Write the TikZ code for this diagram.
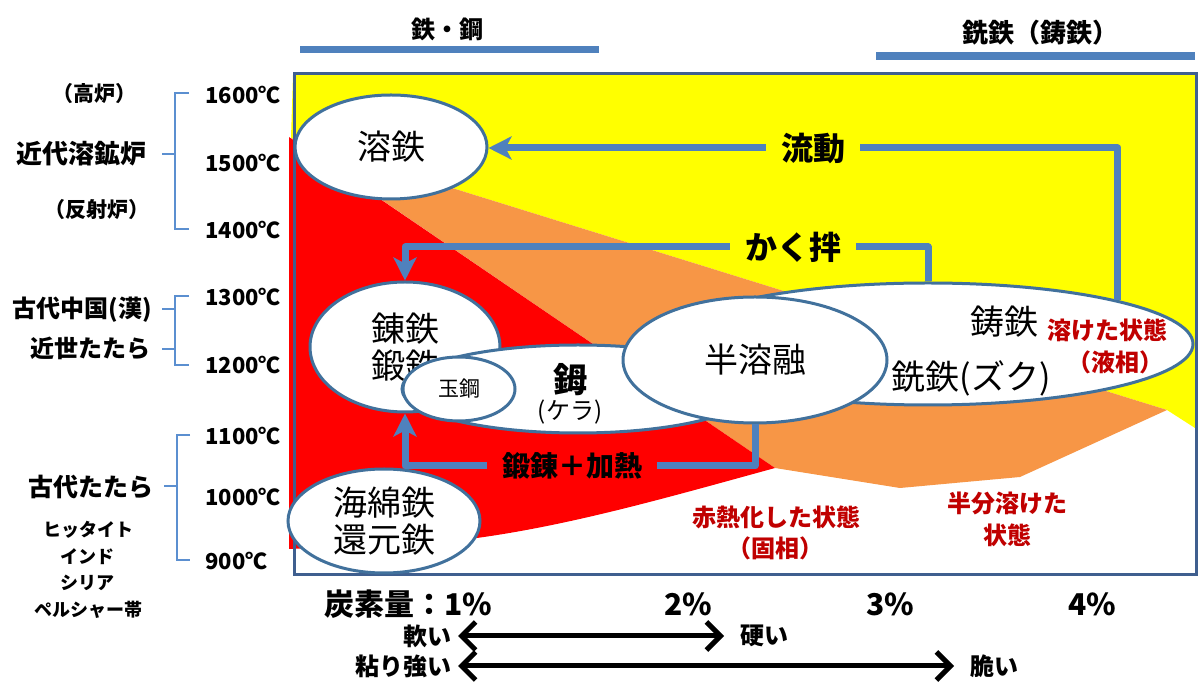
\documentclass[tikz,border=0pt]{standalone}
\usepackage{fontspec}
\setmainfont{Noto Sans CJK JP}
\usetikzlibrary{shapes.geometric,arrows.meta}
\definecolor{cyel}{HTML}{FFFF00}
\definecolor{cred}{HTML}{FF0000}
\definecolor{corg}{HTML}{F79646}
\definecolor{cline}{HTML}{4F81BD}
\definecolor{cedge}{HTML}{41719C}
\definecolor{cframe}{HTML}{3F5F8F}
\definecolor{cbrk}{HTML}{5B8FD0}
\definecolor{dred}{HTML}{C00000}
\newcommand{\fsz}[2]{\fontsize{#1pt}{#2pt}\selectfont}
\begin{document}
\begin{tikzpicture}[x=0.5pt,y=-0.5pt,
  ell/.style={ellipse, draw=cedge, line width=1.5pt, fill=white, inner sep=0pt, align=center},
  conn/.style={draw=cline, line width=3.5pt, line join=round},
  tip/.style={-{Stealth[length=11.5pt,width=11.5pt,inset=3pt]}},
  lbl/.style={font=\bfseries\fsz{16}{18}, inner xsep=7.5pt, inner ysep=2pt},
  temp/.style={anchor=west, font=\bfseries\fsz{11}{13}, inner sep=0pt},
  side/.style={font=\bfseries\fsz{12}{14}, inner sep=0pt},
  small/.style={font=\bfseries\fsz{9}{11}, inner sep=0pt},
  rlab/.style={font=\bfseries\fsz{12}{14}, text=dred, inner sep=0pt},
  etxt/.style={font=\fsz{17}{19}, inner sep=0pt},
  brk/.style={draw=cbrk, line width=1pt},
  barr/.style={draw=black, line width=2.5pt, {Straight Barb[length=7pt,width=14pt]}-{Straight Barb[length=7pt,width=14pt]}},
  btm/.style={font=\bfseries\fsz{12}{14}, inner ysep=0pt}
]
\useasboundingbox (0,0) rectangle (1200,699);
\fill[white] (0,0) rectangle (1200,699);

% coloured regions
\fill[cyel] (293,75) -- (1195,75) -- (1195,428) -- (1167,410) -- (291,138) -- cycle;
\fill[corg] (291,138) -- (1167,410) -- (1020,477) -- (900,488) -- (775,468) -- cycle;
\fill[cred] (289,137) -- (775,468) .. controls (640,505) and (520,540) .. (400,545) -- (289,549) -- cycle;
\draw[cframe, line width=1.5pt] (294,74) rectangle (1196,575);

% top bars and titles
\draw[cline, line width=3.5pt] (300,49.5) -- (599,49.5);
\draw[cline, line width=4pt] (876,56) -- (1195,56);
\node[font=\bfseries\fsz{12}{14}] (tk) at (447,29) {鉄・鋼};
\node[font=\bfseries\fsz{13}{15}] (st) at (1040,33) {銑鉄（鋳鉄）};

% temperatures
\node[temp] (t16) at (205,95) {1600℃};
\node[temp] (t15) at (205,163) {1500℃};
\node[temp] (t14) at (205,230) {1400℃};
\node[temp] (t13) at (205,297) {1300℃};
\node[temp] (t12) at (205,365) {1200℃};
\node[temp] (t11) at (205,436) {1100℃};
\node[temp] (t10) at (205,497) {1000℃};
\node[temp] (t09) at (205,561) {900℃};

% brackets
\draw[brk] (189,93) -- (175,93) -- (175,229) -- (189,229);
\draw[brk] (162,154) -- (175,154);
\draw[brk] (189,296) -- (175,296) -- (175,365) -- (189,365);
\draw[brk] (162,309) -- (175,309);
\draw[brk] (162,349) -- (175,349);
\draw[brk] (190,435) -- (177,435) -- (177,560) -- (190,560);
\draw[brk] (164,486) -- (177,486);

% side labels
\node[font=\bfseries\fsz{10.5}{12}] (kouro) at (95,94) {（高炉）};
\node[font=\bfseries\fsz{13}{15}] (kindai) at (82,154) {近代溶鉱炉};
\node[font=\bfseries\fsz{10.5}{12}] (hansha) at (97,210) {（反射炉）};
\node[side] (kodaichu) at (82,310) {古代中国(漢)};
\node[side] (kinsei) at (90,348) {近世たたら};
\node[font=\bfseries\fsz{12.5}{14}] (kodaitatara) at (91,487) {古代たたら};
\node[small] (hit) at (88,530) {ヒッタイト};
\node[small] (ind) at (88,557) {インド};
\node[small] (syr) at (88,583) {シリア};
\node[small] (per) at (88,610) {ペルシャー帯};

% ellipses
\node[ell, minimum width=96pt, minimum height=52pt, font=\fsz{17}{19}] (youtetsu) at (391,147) {溶鉄};
\node[ell, minimum width=95pt, minimum height=65pt, font=\fsz{17}{18.5}] (rentetsu) at (405,347) {錬鉄\\鍛鉄};
\node[ell, minimum width=176pt, minimum height=44pt] (kera) at (578,389) {};
\node[ell, minimum width=56pt, minimum height=32pt, font=\fsz{10.5}{12}] (tamahagane) at (459,389) {玉鋼};
\node[font=\bfseries\fsz{17}{19}, inner sep=0pt] (keralbl) at (570,380) {鉧};
\node[font=\fsz{12}{14}, inner sep=0pt] (keralbl2) at (570,412) {(ケラ)};
\node[ell, minimum width=265pt, minimum height=61pt] (sentetsu) at (928,344) {};
\node[etxt] (chutetsu) at (1004,322) {鋳鉄};
\node[etxt] (zuku) at (971,378) {銑鉄(ズク)};
\node[rlab] (tokesta) at (1107,330) {溶けた状態};
\node[rlab] (ekisou) at (1115,362) {（液相）};
\node[ell, minimum width=132pt, minimum height=63pt, font=\fsz{17}{19}] (hanyo) at (755,360) {半溶融};
\node[ell, minimum width=96pt, minimum height=52pt, font=\fsz{17}{18.5}] (kaimen) at (384,521) {海綿鉄\\還元鉄};

% region labels
\node[rlab] (sekinetsu) at (776,517) {赤熱化した状態};
\node[rlab] (koso) at (775,548) {（固相）};
\node[rlab] (hanbun) at (1007,503) {半分溶けた};
\node[rlab] (jotai) at (1007,535) {状態};

% connectors
\node[lbl] (ryudo) at (813,148) {流動};
\draw[conn] (sentetsu.13.4) |- (ryudo.east);
\draw[conn, tip] (ryudo.west) -- (ryudo.west -| youtetsu.east);
\node[lbl] (kaku) at (793,247) {かく拌};
\draw[conn] (sentetsu.north) |- (kaku.east);
\draw[conn, tip] (kaku.west) -| (rentetsu.north);
\node[lbl, font=\bfseries\fsz{14}{16}] (tanren) at (572,466) {鍛錬＋加熱};
\draw[conn] (hanyo.south) |- (tanren.east);
\draw[conn, tip] (tanren.west) -| (rentetsu.south);

% bottom axis
\node[font=\bfseries\fsz{15}{17}, inner sep=0pt] (c1) at (408,604) {炭素量：1\%};
\node[font=\bfseries\fsz{15}{17}, inner sep=0pt] (c2) at (688,604) {2\%};
\node[font=\bfseries\fsz{15}{17}, inner sep=0pt] (c3) at (890,604) {3\%};
\node[font=\bfseries\fsz{15}{17}, inner sep=0pt] (c4) at (1092,604) {4\%};
\node[btm, anchor=east, inner xsep=3pt] (soft) at (458,636) {軟い};
\node[btm, anchor=west, inner xsep=8pt] (hard) at (724,636) {硬い};
\node[btm, anchor=east, inner xsep=3pt] (tough) at (458,666) {粘り強い};
\node[btm, anchor=west, inner xsep=8pt] (brittle) at (954,666) {脆い};
\draw[barr] (soft.east) -- (hard.west);
\draw[barr] (tough.east) -- (brittle.west);
\end{tikzpicture}
\end{document}
